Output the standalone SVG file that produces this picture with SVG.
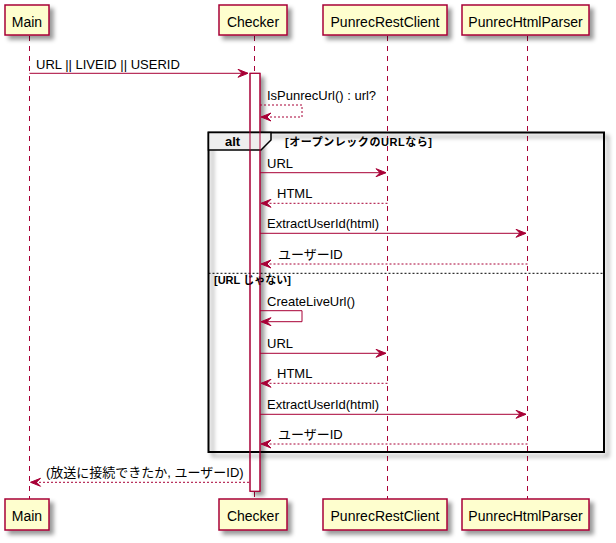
<svg xmlns="http://www.w3.org/2000/svg" width="616" height="543" viewBox="0 0 616 543">
<style>
.box{fill:#FEFECE;stroke:#A80036;stroke-width:1.5}
.pt{font-family:"Liberation Sans",Arial,sans-serif;font-size:14px;fill:#000;text-anchor:middle}
.life{stroke:#A80036;stroke-width:1;stroke-dasharray:5,5;fill:none}
.msg{stroke:#A80036;stroke-width:1;fill:none}
.ret{stroke:#A80036;stroke-width:1;fill:none;stroke-dasharray:2,2}
.head{fill:#A80036;stroke:#A80036;stroke-width:1}
.mt{font-family:"Liberation Sans",Arial,"Noto Sans CJK JP",sans-serif;font-size:13px;fill:#000}
.gt{font-family:"Liberation Sans",Arial,"Noto Sans CJK JP",sans-serif;font-size:11px;font-weight:bold;fill:#000}
</style>
<defs>
<filter id="sh" x="-1" y="-1" width="300%" height="300%">
<feGaussianBlur in="SourceAlpha" stdDeviation="2" result="b"/>
<feColorMatrix type="matrix" in="b" result="b2" values="0 0 0 0 0 0 0 0 0 0 0 0 0 0 0 0 0 0 .4 0"/>
<feOffset dx="4" dy="4" in="b2" result="b3"/>
<feBlend in="SourceGraphic" in2="b3" mode="normal"/>
</filter>
</defs>
<g id="lifelines">
<line class="life" x1="29.5" y1="36" x2="29.5" y2="499"/>
<line class="life" x1="254.5" y1="36" x2="254.5" y2="73"/>
<line class="life" x1="254.5" y1="492" x2="254.5" y2="499"/>
<line class="life" x1="387.5" y1="36" x2="387.5" y2="499"/>
<line class="life" x1="527.5" y1="36" x2="527.5" y2="499"/>
</g>
<g id="activation-back">
<rect x="250" y="73.3" width="10" height="418" fill="#FFFFFF" stroke="#A80036" stroke-width="1" filter="url(#sh)"/>
</g>
<g id="alt-frame">
<rect x="208.5" y="132.5" width="395.5" height="319.5" fill="none" stroke="#000" stroke-width="2" filter="url(#sh)"/>
<polygon points="208.5,132.5 271,132.5 271,140 261,150 208.5,150" fill="#EEEEEE" stroke="#000" stroke-width="1.5"/>
<text x="225" y="146" font-family="Liberation Sans,Arial,sans-serif" font-size="13" font-weight="bold">alt</text>
<text class="gt" x="285" y="146" textLength="147" lengthAdjust="spacing">[オープンレックのURLなら]</text>
<line x1="208.5" y1="273.3" x2="604" y2="273.3" stroke="#000" stroke-width="1" stroke-dasharray="2,2"/>
<text class="gt" x="214" y="283.5">[URL じゃない]</text>
</g>
<g id="activation">
<rect x="250" y="73.3" width="10" height="418" fill="none" stroke="#A80036" stroke-width="1"/>
</g>
<g id="Main">
<rect class="box" x="5" y="5" width="44" height="30" filter="url(#sh)"/>
<text class="pt" x="27" y="27">Main</text>
<rect class="box" x="5" y="499" width="44" height="31" filter="url(#sh)"/>
<text class="pt" x="27" y="521">Main</text>
</g>
<g id="Checker">
<rect class="box" x="219" y="5" width="68" height="30" filter="url(#sh)"/>
<text class="pt" x="253" y="27">Checker</text>
<rect class="box" x="219" y="499" width="68" height="31" filter="url(#sh)"/>
<text class="pt" x="253" y="521">Checker</text>
</g>
<g id="PunrecRestClient">
<rect class="box" x="323" y="5" width="124" height="30" filter="url(#sh)"/>
<text class="pt" x="385" y="27">PunrecRestClient</text>
<rect class="box" x="323" y="499" width="124" height="31" filter="url(#sh)"/>
<text class="pt" x="385" y="521">PunrecRestClient</text>
</g>
<g id="PunrecHtmlParser">
<rect class="box" x="462" y="5" width="127" height="30" filter="url(#sh)"/>
<text class="pt" x="525.5" y="27">PunrecHtmlParser</text>
<rect class="box" x="462" y="499" width="127" height="31" filter="url(#sh)"/>
<text class="pt" x="525.5" y="521">PunrecHtmlParser</text>
</g>
<g id="connectors">
<line class="msg" x1="29.5" y1="73.3" x2="248" y2="73.3"/>
<polygon class="head" points="238,69.3 248,73.3 238,77.3 242,73.3"/>
<text class="mt" x="36" y="68.5">URL || LIVEID || USERID</text>

<polyline class="ret" points="260,105 302,105 302,117 261,117"/>
<polygon class="head" points="271,113 261,117 271,121 267,117"/>
<text class="mt" x="267" y="100">IsPunrecUrl() : url?</text>

<line class="msg" x1="260" y1="172.7" x2="386" y2="172.7"/>
<polygon class="head" points="376,168.7 386,172.7 376,176.7 380,172.7"/>
<text class="mt" x="267" y="167.5">URL</text>

<line class="ret" x1="387.5" y1="203.3" x2="261" y2="203.3"/>
<polygon class="head" points="271,199.3 261,203.3 271,207.3 267,203.3"/>
<text class="mt" x="277" y="198">HTML</text>

<line class="msg" x1="260" y1="233.3" x2="526" y2="233.3"/>
<polygon class="head" points="516,229.3 526,233.3 516,237.3 520,233.3"/>
<text class="mt" x="267" y="228">ExtractUserId(html)</text>

<line class="ret" x1="527.5" y1="264" x2="261" y2="264"/>
<polygon class="head" points="271,260 261,264 271,268 267,264"/>
<text class="mt" x="278" y="259">ユーザーID</text>

<polyline class="msg" points="260,310.7 302,310.7 302,321.7 261,321.7"/>
<polygon class="head" points="271,317.7 261,321.7 271,325.7 267,321.7"/>
<text class="mt" x="267" y="305.5">CreateLiveUrl()</text>

<line class="msg" x1="260" y1="353.3" x2="386" y2="353.3"/>
<polygon class="head" points="376,349.3 386,353.3 376,357.3 380,353.3"/>
<text class="mt" x="267" y="348">URL</text>

<line class="ret" x1="387.5" y1="383.3" x2="261" y2="383.3"/>
<polygon class="head" points="271,379.3 261,383.3 271,387.3 267,383.3"/>
<text class="mt" x="277" y="378">HTML</text>

<line class="msg" x1="260" y1="414.3" x2="526" y2="414.3"/>
<polygon class="head" points="516,410.3 526,414.3 516,418.3 520,414.3"/>
<text class="mt" x="267" y="409">ExtractUserId(html)</text>

<line class="ret" x1="527.5" y1="444" x2="261" y2="444"/>
<polygon class="head" points="271,440 261,444 271,448 267,444"/>
<text class="mt" x="278" y="439">ユーザーID</text>

<line class="ret" x1="249" y1="482.3" x2="30.5" y2="482.3"/>
<polygon class="head" points="40.5,478.3 30.5,482.3 40.5,486.3 36.5,482.3"/>
<text class="mt" x="46" y="477">(放送に接続できたか, ユーザーID)</text>
</g>
</svg>
